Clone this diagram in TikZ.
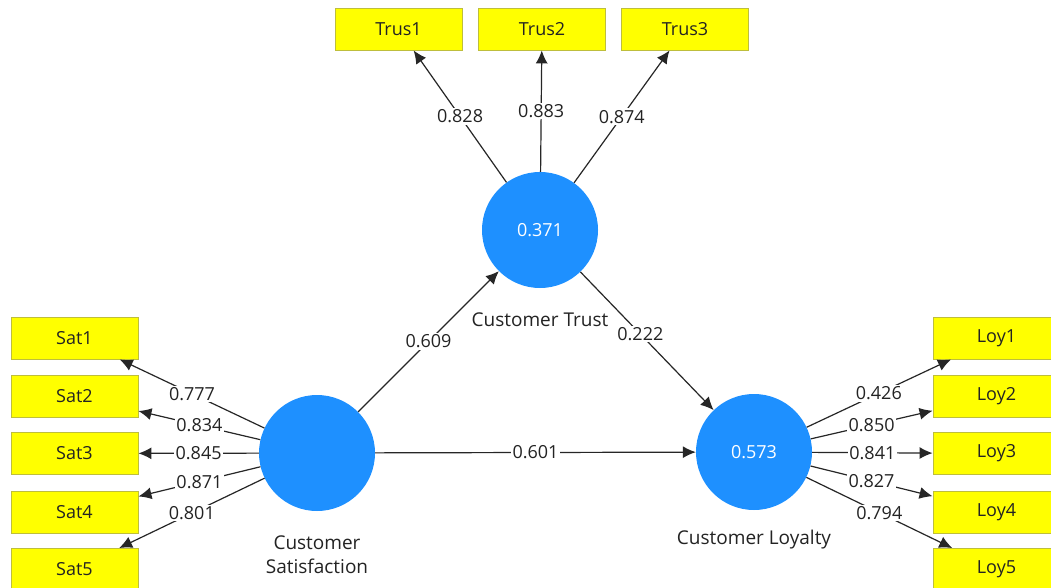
\documentclass[tikz,border=0pt]{standalone}
\usepackage{fontspec}
\setmainfont{Open Sans}
\usetikzlibrary{arrows.meta}
\definecolor{boxyellow}{RGB}{255,255,0}
\definecolor{boxedge}{RGB}{190,190,60}
\definecolor{lvblue}{RGB}{30,144,255}
\definecolor{txt}{RGB}{35,35,35}
\tikzset{
  ind/.style={draw=boxedge, line width=0.9pt, fill=boxyellow, minimum width=127pt, minimum height=42pt, inner sep=0pt, text=txt, font=\fontsize{18}{20}\selectfont},
  lv/.style={circle, fill=lvblue, minimum size=116pt, inner sep=0pt, text=white, font=\fontsize{18}{20}\selectfont},
  lvname/.style={text=txt, align=center, font=\fontsize{19}{24}\selectfont},
  conn/.style={draw=black!85, line width=1.2pt, -{Latex[length=13pt,width=12pt]}},
  coef/.style={fill=white, inner sep=1.5pt, text=txt, font=\fontsize{18}{20}\selectfont}
}
\begin{document}
\begin{tikzpicture}[x=1pt,y=-1pt]
\clip (0,0) rectangle (1051,588);
\fill[white] (0,0) rectangle (1051,588);
% latent variables
\node[lv] (CS) at (317,453) {};
\node[lv] (CT) at (540,230) {0.371};
\node[lv] (CL) at (754,452) {0.573};
\node[lvname] (CSn) at (317,555) {Customer\\Satisfaction};
\node[lvname] (CTn) at (540,320) {Customer Trust};
\node[lvname] (CLn) at (754,540) {Customer Loyalty};
% indicators
\node[ind] (T1) at (398.5,29) {Trus1};
\node[ind] (T2) at (542,29) {Trus2};
\node[ind] (T3) at (685,29) {Trus3};
\node[ind] (S1) at (74.5,338) {Sat1};
\node[ind] (S2) at (74.5,396) {Sat2};
\node[ind] (S3) at (74.5,453.5) {Sat3};
\node[ind] (S4) at (74.5,512) {Sat4};
\node[ind] (S5) at (74.5,569.5) {Sat5};
\node[ind] (L1) at (996.5,338) {Loy1};
\node[ind] (L2) at (996.5,396) {Loy2};
\node[ind] (L3) at (996.5,453.5) {Loy3};
\node[ind] (L4) at (996.5,512) {Loy4};
\node[ind] (L5) at (996.5,569.5) {Loy5};
% outer loadings
\draw[conn] (CT) -- node[coef] {0.828} (T1);
\draw[conn] (CT) -- node[coef] {0.883} (T2);
\draw[conn] (CT) -- node[coef] {0.874} (T3);
\draw[conn] (CS) -- node[coef] {0.777} (S1);
\draw[conn] (CS) -- node[coef] {0.834} (S2);
\draw[conn] (CS) -- node[coef] {0.845} (S3);
\draw[conn] (CS) -- node[coef] {0.871} (S4);
\draw[conn] (CS) -- node[coef] {0.801} (S5);
\draw[conn] (CL) -- node[coef] {0.426} (L1);
\draw[conn] (CL) -- node[coef] {0.850} (L2);
\draw[conn] (CL) -- node[coef] {0.841} (L3);
\draw[conn] (CL) -- node[coef] {0.827} (L4);
\draw[conn] (CL) -- node[coef] {0.794} (L5);
% paths
\draw[conn] (CS) -- node[coef] {0.609} (CT);
\draw[conn] (CT) -- node[coef, pos=0.45] {0.222} (CL);
\draw[conn] (CS) -- node[coef] {0.601} (CL);
\end{tikzpicture}
\end{document}
